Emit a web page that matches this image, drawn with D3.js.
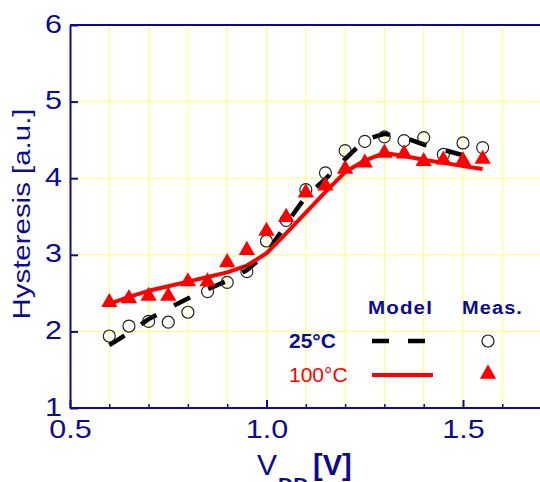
<!DOCTYPE html>
<html>
<head>
<meta charset="utf-8">
<script src="https://cdn.jsdelivr.net/npm/d3@7/dist/d3.min.js"></script>
<style>
  html, body { margin: 0; padding: 0; background: #fff; }
  svg { display: block; font-family: "Liberation Sans", Arial, sans-serif; }
</style>
</head>
<body>
<div id="chart"></div>
<script>
// Supply voltage sweep (V) shared by measurements and model
const vdd = [0.6, 0.65, 0.7, 0.75, 0.8, 0.85, 0.9, 0.95, 1.0, 1.05,
             1.1, 1.15, 1.2, 1.25, 1.3, 1.35, 1.4, 1.45, 1.5, 1.55];

// Measured hysteresis (a.u.)
const meas25  = [1.94, 2.07, 2.13, 2.12, 2.25, 2.52, 2.64, 2.78, 3.18, 3.45,
                 3.85, 4.07, 4.36, 4.48, 4.54, 4.49, 4.53, 4.31, 4.46, 4.40];
const meas100 = [2.38, 2.43, 2.46, 2.46, 2.65, 2.65, 2.90, 3.06, 3.31, 3.49,
                 3.81, 3.90, 4.12, 4.20, 4.33, 4.32, 4.22, 4.24, 4.23, 4.25];

// Model curves (a.u.)
const model25  = [1.82, 1.98, 2.16, 2.30, 2.43, 2.55, 2.66, 2.80, 3.02, 3.40,
                  3.76, 3.99, 4.25, 4.50, 4.58, 4.53, 4.44, 4.37, 4.30, 4.27];
const model100 = [2.36, 2.45, 2.53, 2.59, 2.65, 2.71, 2.77, 2.86, 3.02, 3.28,
                  3.55, 3.82, 4.08, 4.23, 4.33, 4.29, 4.24, 4.20, 4.16, 4.12];

// Axis ticks
const xMajorTicks = [0.5, 1.0, 1.5];
const xMinorTicks = [0.6, 0.7, 0.8, 0.9, 1.1, 1.2, 1.3, 1.4, 1.6];
const xGridTicks  = [0.6, 0.7, 0.8, 0.9, 1.0, 1.1, 1.2, 1.3, 1.4, 1.5, 1.6];
const yTicks      = [1, 2, 3, 4, 5, 6];
const yGridTicks  = [2, 3, 4, 5];

const W = 540, H = 482;
const NAVY = "#0c0c8c", RED = "#ff0000", GRID = "#ffff70";

const svg = d3.select("#chart").append("svg")
  .attr("width", W).attr("height", H);

const x = d3.scaleLinear().domain([0.5, 1.7]).range([70, 541.6]);
const y = d3.scaleLinear().domain([1, 6]).range([408, 25]);

// Widen a text element horizontally by a factor
function stretch(sel, f) {
  sel.each(function () {
    const n = this.getComputedTextLength();
    d3.select(this).attr("textLength", n * f).attr("lengthAdjust", "spacingAndGlyphs");
  });
}

// Grid
svg.append("g").selectAll("line").data(xGridTicks).join("line")
  .attr("x1", d => x(d)).attr("x2", d => x(d))
  .attr("y1", y(6)).attr("y2", y(1))
  .attr("stroke", GRID).attr("stroke-width", 1);
svg.append("g").selectAll("line").data(yGridTicks).join("line")
  .attr("x1", x(0.5)).attr("x2", W)
  .attr("y1", d => y(d)).attr("y2", d => y(d))
  .attr("stroke", GRID).attr("stroke-width", 1);

// Frame top
svg.append("line")
  .attr("x1", x(0.5)).attr("x2", W).attr("y1", y(6)).attr("y2", y(6))
  .attr("stroke", NAVY).attr("stroke-width", 2);

// X axis: minor ticks, then major ticks with labels
const gxMinor = svg.append("g").attr("transform", `translate(0,${y(1)})`)
  .call(d3.axisBottom(x).tickValues(xMinorTicks).tickSize(-4).tickSizeOuter(0).tickFormat(""));
gxMinor.select(".domain").remove();
gxMinor.selectAll(".tick line").attr("stroke", NAVY).attr("stroke-width", 1.5);

const gx = svg.append("g").attr("transform", `translate(0,${y(1)})`)
  .call(d3.axisBottom(x).tickValues(xMajorTicks).tickSize(-8).tickSizeOuter(0)
    .tickFormat(d3.format(".1f")).tickPadding(0));
gx.select(".domain").attr("stroke", NAVY).attr("stroke-width", 2)
  .attr("d", `M${x(0.5)},0H${W}`);
gx.selectAll(".tick line").attr("stroke", NAVY).attr("stroke-width", 2);
gx.selectAll(".tick text")
  .attr("fill", NAVY).attr("font-size", 25).attr("dy", null).attr("y", 30)
  .call(stretch, 1.22);

// Y axis
const gy = svg.append("g").attr("transform", `translate(${x(0.5)},0)`)
  .call(d3.axisLeft(y).tickValues(yTicks).tickSize(-8).tickSizeOuter(0)
    .tickFormat(d3.format("d")));
gy.select(".domain").attr("stroke", NAVY).attr("stroke-width", 2);
gy.selectAll(".tick line").attr("stroke", NAVY).attr("stroke-width", 2);
gy.selectAll(".tick text")
  .attr("fill", NAVY).attr("font-size", 25).attr("x", -8).attr("dy", 7)
  .call(stretch, 1.22);

// Axis titles
svg.append("text")
  .attr("transform", "translate(30,214) rotate(-90)")
  .attr("text-anchor", "middle").attr("fill", NAVY).attr("font-size", 23)
  .attr("textLength", 211).attr("lengthAdjust", "spacingAndGlyphs")
  .text("Hysteresis [a.u.]");

const xTitle = svg.append("g").attr("fill", NAVY);
xTitle.append("text").attr("x", 257).attr("y", 475).attr("font-size", 30).text("V");
xTitle.append("text").attr("x", 278).attr("y", 492).attr("font-size", 21)
  .attr("font-weight", "bold").text("DD");
xTitle.append("text").attr("x", 313).attr("y", 475).attr("font-size", 29)
  .attr("font-weight", "bold").text("[V]");

// Model lines
const line = d3.line().x((d, i) => x(vdd[i])).y(d => y(d));
svg.append("path").datum(model25).attr("d", line)
  .attr("fill", "none").attr("stroke", "#000").attr("stroke-width", 4.5)
  .attr("stroke-dasharray", "18,20");
svg.append("path").datum(model100).attr("d", line)
  .attr("fill", "none").attr("stroke", RED).attr("stroke-width", 4)
  .attr("stroke-linejoin", "round");

// Measurements
svg.append("g").selectAll("circle").data(meas25).join("circle")
  .attr("cx", (d, i) => x(vdd[i])).attr("cy", d => y(d)).attr("r", 6)
  .attr("fill", "none").attr("stroke", "#222").attr("stroke-width", 1.2);
const tri = d3.symbol().type(d3.symbolTriangle).size(115);
svg.append("g").selectAll("path").data(meas100).join("path")
  .attr("transform", (d, i) => `translate(${x(vdd[i])},${y(d)})`)
  .attr("d", tri).attr("fill", RED);

// Legend
const lg = svg.append("g");
lg.append("text").attr("x", 368).attr("y", 314).attr("font-size", 18)
  .attr("font-weight", "bold").attr("fill", NAVY).attr("letter-spacing", 1)
  .attr("textLength", 65).attr("lengthAdjust", "spacingAndGlyphs").text("Model");
lg.append("text").attr("x", 462).attr("y", 314).attr("font-size", 18)
  .attr("font-weight", "bold").attr("fill", NAVY).attr("letter-spacing", 1)
  .attr("textLength", 61).attr("lengthAdjust", "spacingAndGlyphs").text("Meas.");
lg.append("text").attr("x", 289).attr("y", 348).attr("font-size", 21)
  .attr("font-weight", "bold").attr("fill", NAVY).text("25°C");
lg.append("text").attr("x", 289).attr("y", 382).attr("font-size", 21)
  .attr("fill", RED).text("100°C");
lg.append("line").attr("x1", 372).attr("x2", 426).attr("y1", 341).attr("y2", 341)
  .attr("stroke", "#000").attr("stroke-width", 4.5).attr("stroke-dasharray", "17,19");
lg.append("line").attr("x1", 372).attr("x2", 433).attr("y1", 375).attr("y2", 375)
  .attr("stroke", RED).attr("stroke-width", 4);
lg.append("circle").attr("cx", 488).attr("cy", 341).attr("r", 6)
  .attr("fill", "none").attr("stroke", "#222").attr("stroke-width", 1.2);
lg.append("path").attr("transform", "translate(488,374)").attr("d", tri).attr("fill", RED);
</script>
</body>
</html>
